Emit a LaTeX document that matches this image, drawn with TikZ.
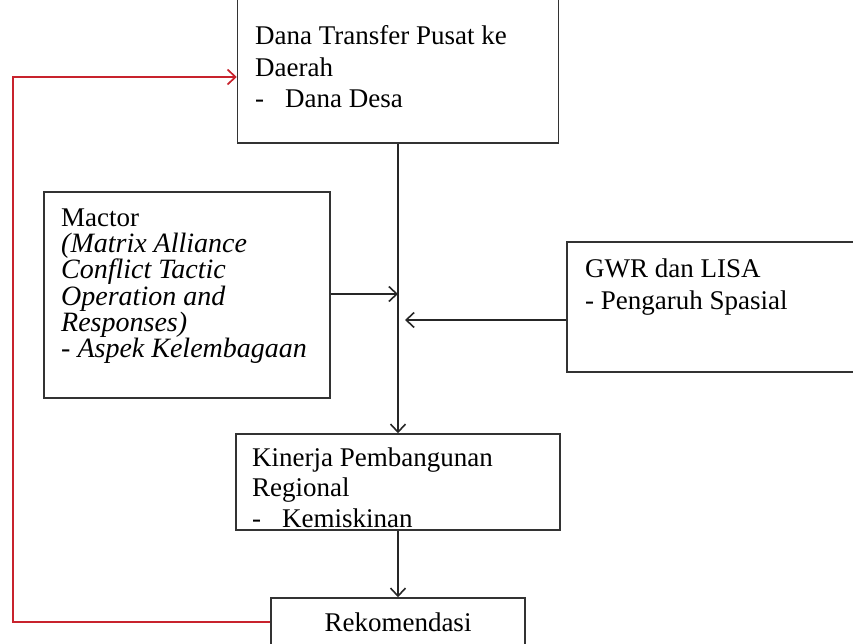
\documentclass[tikz,border=0pt]{standalone}
\usepackage{fontspec}
\setmainfont{Liberation Serif}
\usetikzlibrary{arrows.meta}
\definecolor{loopred}{RGB}{200,35,45}
\tikzstyle{box} = [rectangle, draw=black!80, line width=1.5pt, inner sep=0pt]
\tikzstyle{boxtext} = [anchor=north west, inner sep=0pt, align=left, font=\fontsize{27}{31.5}\selectfont]
\tikzstyle{arrow} = [line width=1.4pt, draw=black!85, ->, >={Straight Barb[length=8pt,width=15pt,line width=1.6pt]}]
\tikzstyle{feedback} = [line width=1.7pt, draw=loopred, ->, >={Straight Barb[length=8pt,width=15pt,line width=1.7pt]}]

\begin{document}
\begin{tikzpicture}[x=1pt, y=1pt]
        \useasboundingbox (0,0) rectangle (853,-644);
        \clip (0,0) rectangle (853,-644);
        % Nodes
        \node (dana) [box, minimum width=321pt, minimum height=153pt] at (398,-66.5) {};
        \node (mactor) [box, minimum width=286pt, minimum height=206pt] at (187,-295) {};
        \node (gwr) [box, minimum width=303pt, minimum height=130pt] at (718.5,-307) {};
        \node (kinerja) [box, minimum width=324pt, minimum height=96pt] at (398,-482) {};
        \node (rekom) [box, minimum width=254pt, minimum height=48pt, font=\fontsize{27}{31.5}\selectfont] at (398,-622) {Rekomendasi};

        \node (danatxt) [boxtext] at (255,-25.5) {Dana Transfer Pusat ke\\Daerah\\\makebox[30pt][l]{-}Dana Desa};
        \node (mactortxt) [boxtext, font=\fontsize{27}{25.2}\selectfont] at (61,-209) {Mactor\\\textit{\fontsize{28}{25.2}\selectfont(Matrix Alliance}\\\textit{\fontsize{28}{25.2}\selectfont Conflict Tactic}\\\textit{\fontsize{28}{25.2}\selectfont Operation and}\\\textit{\fontsize{28}{25.2}\selectfont Responses)}\\\textit{\fontsize{28}{25.2}\selectfont- Aspek Kelembagaan}};
        \node (gwrtxt) [boxtext, font=\fontsize{27}{32}\selectfont] at (585,-259) {GWR dan LISA\\- Pengaruh Spasial};
        \node (kinerjatxt) [boxtext, font=\fontsize{27}{30.5}\selectfont] at (252,-447.5) {Kinerja Pembangunan\\Regional\\\makebox[30pt][l]{-}Kemiskinan};

        \coordinate (join1) at (398,-294);
        \coordinate (join2) at (405,-320);
        \coordinate (ret) at (13,-77);

        % Arrows
        \draw [arrow] (dana) -- (kinerja);
        \draw [arrow] (mactor.east |- join1) -- (join1);
        \draw [arrow] (gwr.west |- join2) -- (join2);
        \draw [arrow] (kinerja) -- (rekom);
        \draw [feedback] (rekom.west) -| (ret) -- (ret -| dana.west);
    \end{tikzpicture}
\end{document}
